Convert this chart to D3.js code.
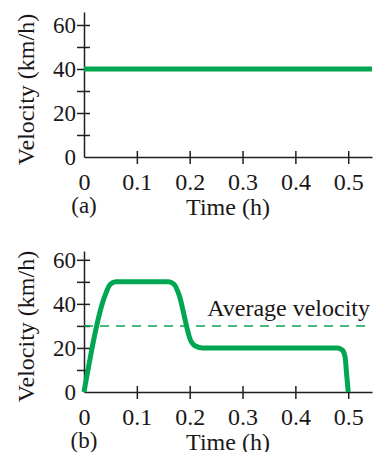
<!DOCTYPE html>
<html>
<head>
<meta charset="utf-8">
<script src="https://cdn.jsdelivr.net/npm/d3@7"></script>
<style>
  body { margin: 0; background: #fff; }
  svg text { font-family: "Liberation Serif", "DejaVu Serif", serif; fill: #1a1718; }
</style>
</head>
<body>
<svg width="383" height="452"></svg>
<script>
// data
let timeTicks = [0, 0.1, 0.2, 0.3, 0.4, 0.5];
let velTicks = [0, 10, 20, 30, 40, 50, 60];
let velLabels = [0, 20, 40, 60];

// (a) constant speed
let constTime = [0, 0.545];
let constVel = [40, 40];

// (b) varying speed
let tripTime = [0, 0.04, 0.05, 0.06, 0.16, 0.17, 0.18, 0.195, 0.2, 0.21, 0.225, 0.48, 0.489, 0.494, 0.497, 0.5];
let tripVel  = [0, 44, 49, 50, 50, 49, 44, 29, 24.5, 21, 20, 20, 19, 16, 8, 0];
let avgVel = 30;

const green = "#00a651";
const ink = "#231f20";
let svg = d3.select("svg");

// both panels share the same time axis
let xScale = d3.scaleLinear().domain([0, 0.545]).range([84, 372]);

function panel(y0, topVal, top, tag) {
    let yScale = d3.scaleLinear().domain([0, topVal]).range([y0, top]);
    let g = svg.append("g");

    let xAxis = d3.axisBottom(xScale)
        .tickValues(timeTicks)
        .tickSize(7)
        .tickSizeOuter(0)
        .tickFormat(d => d);
    let xg = g.append("g")
        .attr("transform", "translate(0," + y0 + ")")
        .call(xAxis);
    xg.selectAll(".tick line").attr("y1", -6).attr("stroke", ink).attr("stroke-width", 1.5);
    xg.selectAll(".tick text").attr("y", 33).attr("dy", 0)
        .style("font-size", "24px");
    xg.select(".domain").attr("stroke", ink).attr("stroke-width", 1.5);
    xg.selectAll(".tick").filter(d => d == 0).select("line").remove();

    let yAxis = d3.axisLeft(yScale)
        .tickValues(velTicks)
        .tickSize(7)
        .tickSizeOuter(0)
        .tickFormat(d => velLabels.includes(d) ? d : "");
    let yg = g.append("g")
        .attr("transform", "translate(84,0)")
        .call(yAxis);
    yg.selectAll(".tick line").attr("x1", 6).attr("stroke", ink).attr("stroke-width", 1.5);
    yg.selectAll(".tick text").attr("x", -8).attr("dy", "0.34em")
        .style("font-size", "23px");
    yg.select(".domain").attr("stroke", ink).attr("stroke-width", 1.5);
    yg.selectAll(".tick").filter(d => d == 0).select("line").remove();

    // labels
    g.append("text")
        .attr("transform", `translate(34, ${(y0 + top) / 2 + 5}) rotate(-90)`)
        .style("text-anchor", "middle")
        .style("font-size", "24px")
        .text("Velocity (km/h)");
    g.append("text")
        .attr("x", 228).attr("y", y0 + 58)
        .style("text-anchor", "middle")
        .style("font-size", "24px")
        .text("Time (h)");
    g.append("text")
        .attr("x", 84).attr("y", y0 + 56)
        .style("text-anchor", "middle")
        .style("font-size", "23px")
        .text(tag);

    return { g: g, y: yScale };
}

// (a)
let a = panel(157, 65.9, 12, "(a)");
a.g.append("path")
    .datum(constTime.map((t, i) => [t, constVel[i]]))
    .attr("fill", "none")
    .attr("stroke", green)
    .attr("stroke-width", 5)
    .attr("d", d3.line().x(d => xScale(d[0])).y(d => a.y(d[1])));

// (b)
let b = panel(392, 64, 251, "(b)");
b.g.append("line")
    .attr("x1", xScale(0)).attr("x2", xScale(0.545))
    .attr("y1", b.y(avgVel)).attr("y2", b.y(avgVel))
    .attr("stroke", green)
    .attr("stroke-width", 1.5)
    .attr("stroke-dasharray", "9,7");
b.g.append("text")
    .attr("x", 370).attr("y", 316)
    .style("text-anchor", "end")
    .style("font-size", "24px")
    .text("Average velocity");
b.g.append("path")
    .datum(tripTime.map((t, i) => [t, tripVel[i]]))
    .attr("fill", "none")
    .attr("stroke", green)
    .attr("stroke-width", 5)
    .attr("stroke-linejoin", "round")
    .attr("d", d3.line().curve(d3.curveMonotoneX).x(d => xScale(d[0])).y(d => b.y(d[1])));
</script>
</body>
</html>
